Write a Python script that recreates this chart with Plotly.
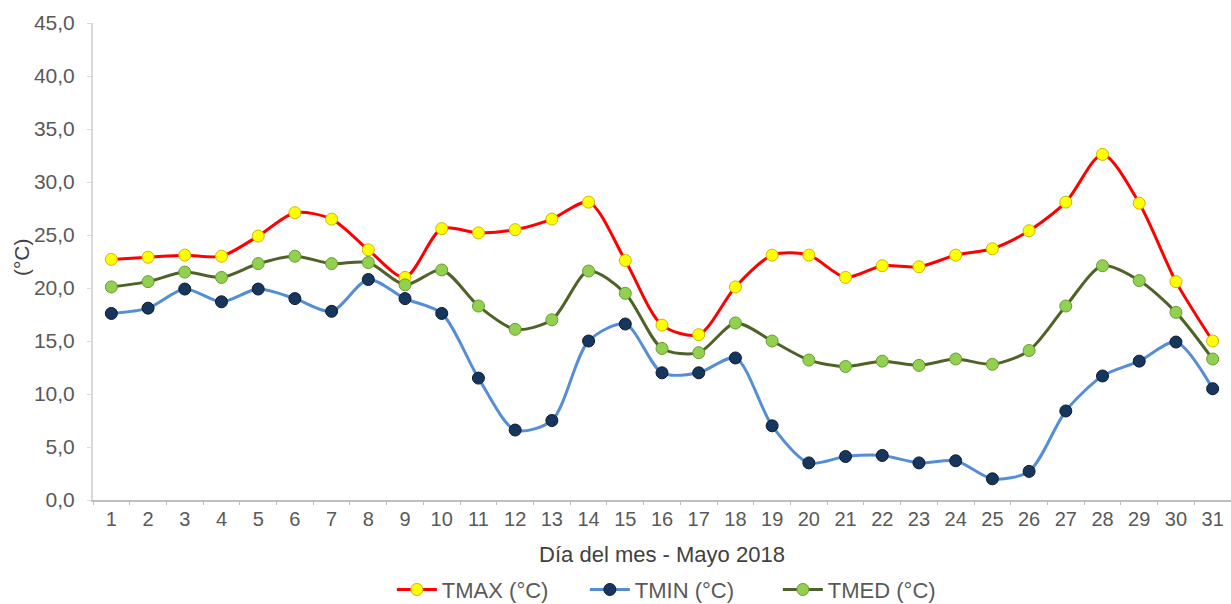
import plotly.graph_objects as go

# Daily temperatures, May 2018
dias = [str(d) for d in range(1, 32)]

tmax = [22.7, 22.9, 23.1, 23.0, 24.9, 27.1, 26.5, 23.6, 21.0, 25.6, 25.2, 25.5, 26.5, 28.1, 22.6,
        16.5, 15.6, 20.1, 23.1, 23.1, 21.0, 22.1, 22.0, 23.1, 23.7, 25.4, 28.1, 32.6, 28.0, 20.6, 15.0]

tmin = [17.6, 18.1, 19.9, 18.7, 19.9, 19.0, 17.8, 20.8, 19.0, 17.6, 11.5, 6.6, 7.5, 15.0, 16.6,
        12.0, 12.0, 13.4, 7.0, 3.5, 4.1, 4.2, 3.5, 3.7, 2.0, 2.7, 8.4, 11.7, 13.1, 14.9, 10.5]

tmed = [20.1, 20.6, 21.5, 21.0, 22.3, 23.0, 22.3, 22.4, 20.3, 21.7, 18.3, 16.1, 17.0, 21.6, 19.5,
        14.3, 13.9, 16.7, 15.0, 13.2, 12.6, 13.1, 12.7, 13.3, 12.8, 14.1, 18.3, 22.1, 20.7, 17.7, 13.3]

FONT = "Liberation Sans, Arial, sans-serif"

series = [
    ("TMAX (°C)", tmax, "#FF0000", "#FFFF00", "#C9B800"),
    ("TMIN (°C)", tmin, "#558ED5", "#17365D", "#0B1A30"),
    ("TMED (°C)", tmed, "#4F6228", "#92D050", "#6B9A34"),
]

fig = go.Figure()
for name, vals, line_col, fill_col, edge_col in series:
    fig.add_trace(go.Scatter(
        x=dias, y=vals, name=name, mode="lines+markers",
        line=dict(color=line_col, width=3, shape="spline", smoothing=0.8),
        marker=dict(symbol="circle", size=12, color=fill_col,
                    line=dict(color=edge_col, width=1)),
    ))

fig.update_layout(
    width=1231, height=604,
    margin=dict(l=93, r=0, t=23, b=104, autoexpand=False),
    paper_bgcolor="white", plot_bgcolor="white",
    separators=",.",
    font=dict(family=FONT, size=21, color="#595959"),
    showlegend=True,
    legend=dict(orientation="h", x=0.517, xanchor="center", y=-0.188, yanchor="middle",
                font=dict(size=22, color="#595959"), bgcolor="rgba(0,0,0,0)",
                itemwidth=40, tracegroupgap=0, entrywidth=138),
    xaxis=dict(
        type="category", range=[-0.5, 30.5], autorange=False, automargin=False,
        showgrid=False, zeroline=False,
        showline=True, linecolor="#BFBFBF", linewidth=2,
        ticks="outside", tickson="boundaries", ticklen=3, tickcolor="#BFBFBF",
        tickfont=dict(size=20, color="#595959"),
        title=dict(text="Día del mes - Mayo 2018", font=dict(size=22, color="#404040"), standoff=18),
    ),
    yaxis=dict(
        range=[0, 45], dtick=5, tickformat=".1f", showgrid=False, zeroline=False,
        automargin=False,
        showline=True, linecolor="#D9D9D9", linewidth=2,
        ticks="outside", ticklen=4, tickcolor="#D9D9D9",
        tickfont=dict(size=21, color="#595959"), ticklabelstandoff=8,
    ),
)

fig.add_annotation(
    text="(°C)", textangle=-90, showarrow=False,
    xref="paper", yref="paper", x=-0.063, y=0.51, xanchor="center", yanchor="middle",
    font=dict(family=FONT, size=21, color="#404040"),
)

fig.write_html("out.html")
